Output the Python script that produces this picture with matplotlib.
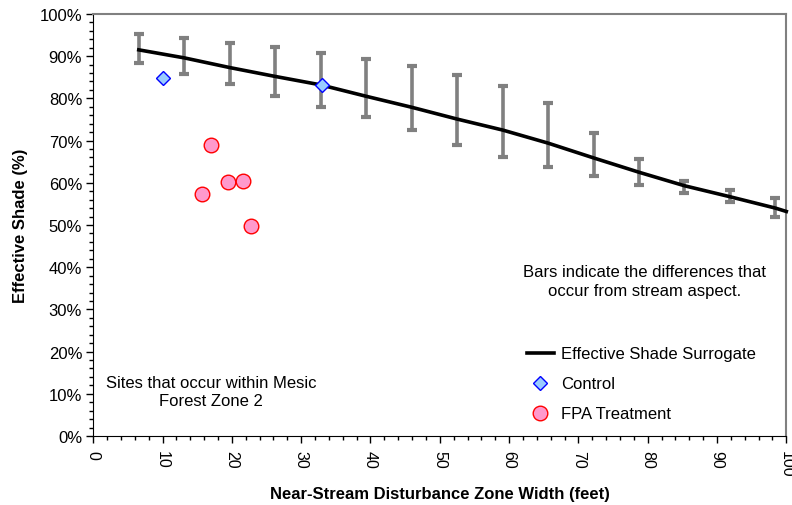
import matplotlib
matplotlib.use("Agg")
import matplotlib.pyplot as plt
from matplotlib.ticker import MultipleLocator, PercentFormatter

plt.rcParams['font.family'] = ['Liberation Sans', 'DejaVu Sans']

# surrogate curve (feet, % shade) with aspect range bars
surrogate_x = [6.56, 13.12, 19.69, 26.25, 32.81, 39.37, 45.93, 52.49,
               59.06, 65.62, 72.18, 78.74, 85.30, 91.86, 98.43, 100.0]
surrogate_y = [91.5, 89.6, 87.3, 85.2, 83.2, 80.5, 77.9, 75.1,
               72.5, 69.4, 65.9, 62.5, 59.3, 56.7, 54.0, 53.2]
bar_hi = [95.3, 94.3, 93.2, 92.1, 90.8, 89.4, 87.7, 85.6,
          82.9, 78.8, 71.8, 65.6, 60.5, 58.2, 56.3]
bar_lo = [88.5, 85.8, 83.3, 80.5, 78.0, 75.6, 72.6, 69.0,
          66.1, 63.7, 61.5, 59.5, 57.5, 55.5, 52.0]

control_x = [10.1, 33.0]
control_y = [84.8, 83.2]

fpa_x = [17.0, 15.7, 19.4, 21.6, 22.7]
fpa_y = [69.0, 57.3, 60.1, 60.4, 49.8]

fig = plt.figure(figsize=(7.92, 5.06), dpi=100)
ax = fig.add_axes([0.1178, 0.1364, 0.8750, 0.8340])

# range bars
bx = surrogate_x[:len(bar_hi)]
ax.vlines(bx, bar_lo, bar_hi, color="#808080", lw=2.6, zorder=2)
for y in (bar_lo, bar_hi):
    ax.plot(bx, y, ls="none", marker="_", ms=7, mew=3, color="#808080", zorder=2)

ax.plot(surrogate_x, surrogate_y, color="black", lw=2.6, zorder=3,
        clip_on=False, label="Effective Shade Surrogate")
ax.plot(control_x, control_y, ls="none", marker="D", ms=7, mfc="#99CCFF",
        mec="#0000FF", mew=1.0, zorder=4, label="Control")
ax.plot(fpa_x, fpa_y, ls="none", marker="o", ms=10.5, mfc="#FF99CC",
        mec="#FF0000", mew=1.0, zorder=4, label="FPA Treatment")

ax.set_xlim(0, 100)
ax.set_ylim(0, 100)
ax.xaxis.set_major_locator(MultipleLocator(10))
ax.xaxis.set_minor_locator(MultipleLocator(2))
ax.yaxis.set_major_locator(MultipleLocator(10))
ax.yaxis.set_minor_locator(MultipleLocator(2))
ax.yaxis.set_major_formatter(PercentFormatter(decimals=0))

ax.tick_params(axis="both", which="major", direction="out", length=5, width=1,
               labelsize=12)
ax.tick_params(axis="both", which="minor", direction="out", length=3, width=1)
ax.tick_params(axis="x", labelrotation=-90, pad=5, labelsize=11.5)
ax.tick_params(axis="y", pad=3)

for s in ("top", "right"):
    ax.spines[s].set_color("#808080")
    ax.spines[s].set_linewidth(1.5)

ax.set_xlabel("Near-Stream Disturbance Zone Width (feet)", fontsize=12,
              fontweight="bold")
ax.set_ylabel("Effective Shade (%)", fontsize=12, fontweight="bold")
ax.xaxis.set_label_coords(0.5, -0.118)
ax.yaxis.set_label_coords(-0.094, 0.5)

ax.text(79.6, 36.7, "Bars indicate the differences that\noccur from stream aspect.",
        ha="center", va="center", fontsize=12, linespacing=1.35)
ax.text(17.0, 10.5, "Sites that occur within Mesic\nForest Zone 2",
        ha="center", va="center", fontsize=12, linespacing=1.3)

ax.legend(loc="upper left", bbox_to_anchor=(0.616, 0.228), frameon=False,
          fontsize=12, handlelength=1.6, handletextpad=0.45, labelspacing=0.9,
          borderaxespad=0)

fig.savefig("out.png", dpi=100)
